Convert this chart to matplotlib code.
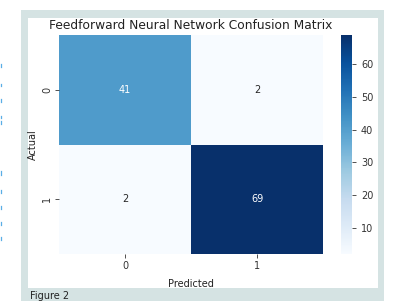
import numpy as np
import matplotlib
matplotlib.use("Agg")
import matplotlib.pyplot as plt
import seaborn as sns
from matplotlib.patches import Rectangle
from matplotlib.lines import Line2D

# dane macierzy pomyłek
klasy = ["0", "1"]
macierz = np.array([[41, 2],
                    [2, 69]])
cbar_ticks = [10, 20, 30, 40, 50, 60]

W, H = 400, 301
fig = plt.figure(figsize=(W / 100, H / 100), dpi=100, facecolor="white")

def fx(px):
    return px / W

def fy(py):
    return 1 - py / H

# ramka ze zrzutu ekranu
fig.patches.append(Rectangle((fx(21), 0), fx(384) - fx(21), fy(10), transform=fig.transFigure,
                             facecolor="#d5e3e3", edgecolor="none", zorder=-2))
fig.patches.append(Rectangle((fx(28), fy(288)), fx(378) - fx(28), fy(18) - fy(288),
                             transform=fig.transFigure, facecolor="white", edgecolor="none", zorder=-1))

ax = fig.add_axes([fx(59), fy(254), fx(323) - fx(59), fy(35) - fy(254)])
cax = fig.add_axes([fx(341), fy(254), fx(352) - fx(341), fy(35) - fy(254)])

sns.heatmap(macierz, annot=True, fmt="d", cmap="Blues", ax=ax, cbar_ax=cax,
            xticklabels=klasy, yticklabels=klasy, annot_kws={"size": 7})

ax.set_title("Feedforward Neural Network Confusion Matrix", fontsize=8.8, pad=4, color="#222222")
ax.set_xlabel("Predicted", fontsize=7, color="#222222", labelpad=6)
ax.set_ylabel("Actual", fontsize=7, color="#222222")
ax.tick_params(labelsize=7, length=3, width=0.6, colors="#333333", pad=2)
plt.setp(ax.get_yticklabels(), rotation=90, va="center")
ax.yaxis.set_label_coords(-0.078, 0.5)

cax.set_yticks(cbar_ticks)
cax.tick_params(labelsize=7, length=3, width=0.6, colors="#333333")

# podpis pod ramką
fig.text(fx(30), fy(291), "Figure 2", fontsize=7, va="top", ha="left", color="#222222")

# ucięte niebieskie znaki przy lewej krawędzi
for y0, y1 in [(64, 67), (84, 86), (99, 102), (116, 118), (121, 124), (171, 175), (190, 193), (206, 209), (222, 225), (237, 240)]:
    fig.add_artist(Line2D([fx(0.5), fx(0.5)], [fy(y0), fy(y1)], transform=fig.transFigure,
                          color="#5aaee6", lw=0.9))

fig.savefig("out.png", dpi=100, facecolor="white")
